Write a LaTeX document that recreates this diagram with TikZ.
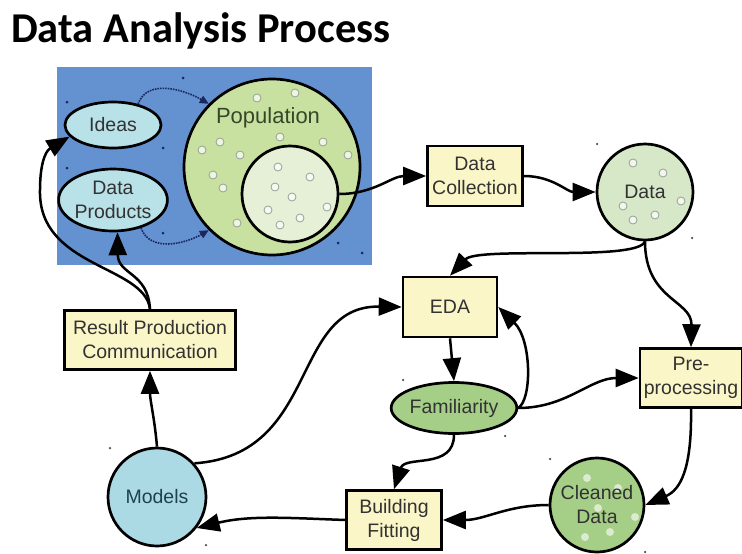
\documentclass[tikz,border=0pt]{standalone}
\usepackage{fontspec}
\setmainfont{Liberation Sans}
\newfontfamily\titlefont{Carlito}
\usetikzlibrary{arrows.meta,shapes.geometric}
\definecolor{bgblue}{RGB}{100,146,208}
\definecolor{cyanfill}{RGB}{185,225,232}
\definecolor{modelfill}{RGB}{172,218,228}
\definecolor{popfill}{RGB}{200,225,160}
\definecolor{innerfill}{RGB}{230,240,214}
\definecolor{datafill}{RGB}{215,232,200}
\definecolor{greenfill}{RGB}{165,206,135}
\definecolor{boxfill}{RGB}{251,246,200}
\definecolor{txt}{RGB}{50,50,50}
\definecolor{navy}{RGB}{25,40,95}
\definecolor{speck}{RGB}{150,160,150}
\begin{document}
\begin{tikzpicture}[x=1pt,y=-1pt,
  lbl/.style={font=\fontsize{19.5}{24}\selectfont, text=txt, align=center, inner sep=0pt},
  stepbox/.style={lbl, draw=black, line width=2.6pt, fill=boxfill, rectangle},
  ball/.style={lbl, draw=black, line width=2.7pt, circle},
  oval/.style={lbl, draw=black, line width=2.7pt, ellipse},
  conn/.style={line width=2.5pt, -{Triangle[length=23pt,width=18pt]}},
  dotconn/.style={navy, line width=1.6pt, densely dotted, -{Triangle[length=9pt,width=8pt]}},
  bubble/.style={draw=speck, line width=0.8pt, fill=white, fill opacity=0.7, circle, minimum size=8pt, inner sep=0pt},
  spot/.style={fill=navy, circle, minimum size=3pt, inner sep=0pt}
]
\useasboundingbox (0,0) rectangle (742,554);
\fill[white] (0,0) rectangle (742,554);

% title
\node[anchor=base west, inner sep=0pt, font=\titlefont\bfseries\fontsize{42.5}{46}\selectfont] (title) at (11,42) {Data Analysis Process};

% blue panel
\fill[bgblue] (57,67) rectangle (372,265);
\foreach \p [count=\i] in {(67,102),(183,78),(163,148),(67,168),(163,233),(338,243),(362,253)}
  \node[spot] (bs\i) at \p {};

% population
\node[ball, fill=popfill, minimum size=176pt] (pop) at (272,167) {};
\node[lbl, font=\fontsize{22}{26}\selectfont, text={rgb,255:red,55;green,70;blue,40}] (poplbl) at (268,118) {Population};
\foreach \p [count=\i] in {(257,98),(295,93),(280,137),(323,142),(348,155),(202,150),(220,142),(240,155),(213,175),(223,188),(237,223)}
  \node[bubble] (pb\i) at \p {};
\node[ball, fill=innerfill, minimum size=96pt] (inner) at (290,194) {};
\foreach \p [count=\i] in {(278,167),(310,177),(275,187),(292,197),(268,210),(300,218),(327,207),(280,225)}
  \node[bubble] (ib\i) at \p {};

% ideas and data products
\node[oval, fill=cyanfill, minimum width=96pt, minimum height=46pt] (ideas) at (113,125) {Ideas};
\node[oval, fill=cyanfill, minimum width=97pt, minimum height=62pt] (dp) at (113,200) {Data\\Products};

% other nodes
\node[stepbox, minimum width=95pt, minimum height=60pt] (dc) at (475,176) {Data\\Collection};
\node[ball, fill=datafill, minimum size=96pt] (data) at (645,192) {};
\foreach \p [count=\i] in {(633,163),(663,173),(681,201),(623,206),(655,215),(633,220)}
  \node[bubble] (db\i) at \p {};
\node[lbl] (datalbl) at (645,192) {Data};
\node[stepbox, minimum width=94pt, minimum height=60pt] (eda) at (450,307) {EDA};
\node[stepbox, minimum width=102pt, minimum height=59pt] (pre) at (691,378) {Pre-\\processing};
\node[oval, fill=greenfill, minimum width=103pt, minimum height=51pt] (fam) at (454,408) {Familiarity};
\node[ball, fill=greenfill, minimum size=94pt] (clean) at (597,505) {};
\foreach \p [count=\i] in {(587,478),(618,488),(598,508),(635,517),(610,532),(585,537)}
  \node[circle, fill=white, fill opacity=0.6, minimum size=8pt, inner sep=0pt] (cb\i) at \p {};
\node[lbl] (cleanlbl) at (597,505) {Cleaned\\Data};
\node[stepbox, minimum width=95pt, minimum height=59pt] (bf) at (394,520) {Building\\Fitting};
\node[ball, fill=modelfill, minimum size=98pt, text={rgb,255:red,30;green,65;blue,80}] (models) at (157,497) {Models};
\node[stepbox, minimum width=171pt, minimum height=59pt] (rp) at (150,340) {Result Production\\Communication};

% loose specks
\foreach \p [count=\i] in {(597,144),(692,238),(403,380),(505,436),(550,459),(645,552),(110,448),(206,545)}
  \node[spot, fill=black!70, minimum size=2.5pt] (sp\i) at \p {};

% connectors
\draw[conn] (inner.east) to[out=0, in=180] (dc.west);
\draw[conn] (dc.east) to[out=0, in=180] (data.west);
\draw[conn] (data.south) .. controls (638,262) and (478,246) .. (eda.north);
\draw[conn] (data.south) .. controls (645,300) and (692,300) .. (pre.north);
\draw[conn] (eda.south) -- (fam.north);
\draw[conn] (fam.east) .. controls (532,400) and (532,340) .. (eda.east);
\draw[conn] (fam.east) to[out=0, in=180] (pre.west);
\draw[conn] (pre.south) .. controls (692,470) and (680,490) .. (clean.east);
\draw[conn] (fam.south) .. controls (454,470) and (405,455) .. (bf.north);
\draw[conn] (clean.west) to[out=180, in=0] (bf.east);
\draw[conn] (bf.west) .. controls (290,518) and (250,515) .. (models.-38);
\draw[conn] (models.north) to[out=95, in=-90] (rp.south);
\draw[conn] (models.42) .. controls (320,455) and (290,305) .. (eda.west);
\draw[conn] (rp.north) .. controls (145,265) and (38,268) .. (40,190) .. controls (40,168) and (44,152) .. (ideas.195);
\draw[conn] (rp.north) .. controls (148,272) and (118,275) .. (dp.-82);

% dotted
\draw[dotconn] (ideas.40) to[out=70, in=150] (pop.135);
\draw[dotconn] (dp.-45) to[out=-70, in=-150] (pop.-135);
\end{tikzpicture}
\end{document}
